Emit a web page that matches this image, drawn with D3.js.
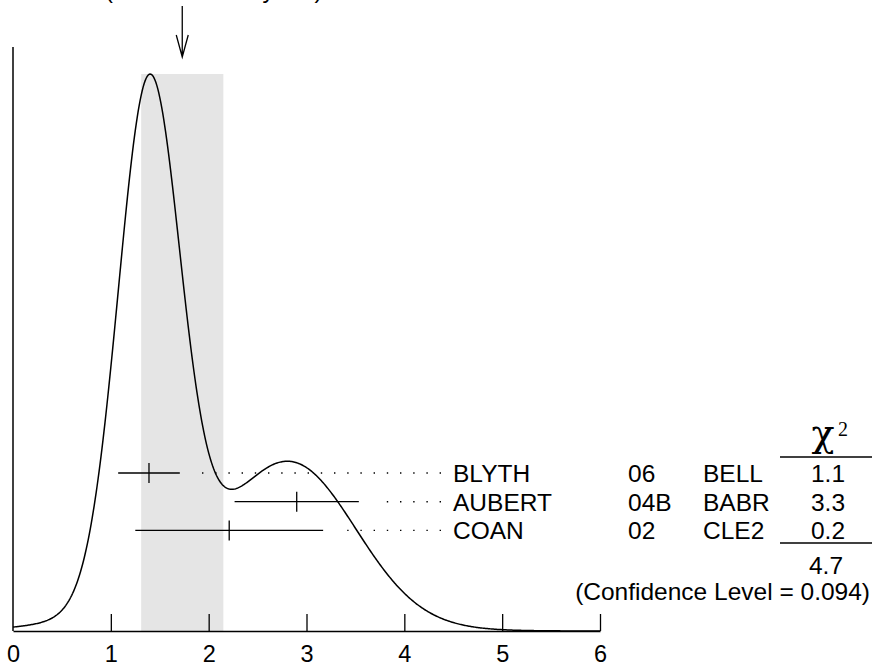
<!DOCTYPE html>
<html>
<head>
<meta charset="utf-8">
<script src="https://cdn.jsdelivr.net/npm/d3@7"></script>
<style>
  body { margin: 0; background: #fff; }
  text { font-family: "Liberation Sans", Arial, Helvetica, sans-serif; fill: #000; }
</style>
</head>
<body>
<div id="chart"></div>
<script>
const authors = ['BLYTH', 'AUBERT', 'COAN'];
const years = ['06', '04B', '02'];
const experiments = ['BELL', 'BABR', 'CLE2'];
const values = [1.39, 2.90, 2.21];
const errors = [0.315, 0.635, 0.96];
const chi2 = ['1.1', '3.3', '0.2'];
const chi2Total = '4.7';
const confidence = '(Confidence Level = 0.094)';
const average = 1.73;
const averageError = 0.42;
const xTicks = [0, 1, 2, 3, 4, 5, 6];

const width = 872;
const height = 669;

const svg = d3.select('#chart')
  .append('svg')
  .attr('width', width)
  .attr('height', height);

const x = d3.scaleLinear().domain([0, 6]).range([13, 600]);

// ideogram: sum of gaussians, each with area proportional to 1/error
const ideogram = v => d3.sum(values, (m, i) => {
  const s = errors[i];
  return Math.exp(-0.5 * ((v - m) / s) ** 2) / (s * s);
});
const grid = d3.range(0, 6.0001, 0.01);
const yMax = d3.max(grid, ideogram);
const y = d3.scaleLinear().domain([0, yMax]).range([631, 74]);

// shaded band for the average +- error
svg.append('rect')
  .attr('x', x(average - averageError))
  .attr('y', y(yMax))
  .attr('width', x(average + averageError) - x(average - averageError))
  .attr('height', y(0) - y(yMax))
  .attr('fill', '#e5e5e5');

// title line, mostly above the frame
svg.append('text')
  .attr('x', 105)
  .attr('y', -2)
  .attr('font-size', 24)
  .text('(Error scaled by 1.5)');

// arrow pointing at the average
const ax = x(average);
svg.append('path')
  .attr('d', `M${ax},6V57M${ax - 6},35L${ax},57L${ax + 6},35`)
  .attr('fill', 'none')
  .attr('stroke', '#000')
  .attr('stroke-width', 1.3);

// axes
svg.append('line')
  .attr('x1', x(0)).attr('x2', x(0))
  .attr('y1', 47).attr('y2', y(0))
  .attr('stroke', '#000').attr('stroke-width', 1.5);

const xAxis = d3.axisBottom(x)
  .tickValues(xTicks)
  .tickSize(0)
  .tickPadding(14)
  .tickFormat(d3.format('d'));

const gx = svg.append('g')
  .attr('transform', `translate(0,${y(0)})`)
  .call(xAxis);
gx.select('.domain').attr('stroke', '#000').attr('stroke-width', 1.5);
gx.selectAll('.tick text')
  .attr('font-size', 23.5)
  .attr('font-family', '"Liberation Sans", Arial, sans-serif')
  .attr('fill', '#000');
gx.selectAll('.tick')
  .filter(d => d > 0)
  .append('line')
  .attr('y1', 0).attr('y2', -17)
  .attr('stroke', '#000').attr('stroke-width', 1.3);

// ideogram curve
svg.append('path')
  .datum(grid)
  .attr('d', d3.line().x(d => x(d)).y(d => y(ideogram(d))))
  .attr('fill', 'none')
  .attr('stroke', '#000')
  .attr('stroke-width', 1.5);

// measurement rows
const rowY = i => 473 + i * 28.7;
const labelX = 453;
const fs = 24.5;

const rows = svg.selectAll('.row')
  .data(values)
  .enter()
  .append('g')
  .attr('class', 'row');

rows.append('line')
  .attr('x1', (d, i) => x(d - errors[i]))
  .attr('x2', (d, i) => x(d + errors[i]))
  .attr('y1', (d, i) => rowY(i)).attr('y2', (d, i) => rowY(i))
  .attr('stroke', '#000').attr('stroke-width', 1.3);

rows.append('line')
  .attr('x1', d => x(d)).attr('x2', d => x(d))
  .attr('y1', (d, i) => rowY(i) - 10).attr('y2', (d, i) => rowY(i) + 10)
  .attr('stroke', '#000').attr('stroke-width', 1.3);

// dotted leaders, drawn from the label leftwards
rows.append('line')
  .attr('x1', labelX - 12)
  .attr('x2', (d, i) => x(d + errors[i]) + 20)
  .attr('y1', (d, i) => rowY(i)).attr('y2', (d, i) => rowY(i))
  .attr('stroke', '#000').attr('stroke-width', 1.4)
  .attr('stroke-dasharray', '1.4,11.8');

rows.append('text')
  .attr('x', labelX)
  .attr('y', (d, i) => rowY(i) + 9)
  .attr('font-size', fs)
  .text((d, i) => authors[i]);

rows.append('text')
  .attr('x', 628)
  .attr('y', (d, i) => rowY(i) + 9)
  .attr('font-size', fs)
  .text((d, i) => years[i]);

rows.append('text')
  .attr('x', 703)
  .attr('y', (d, i) => rowY(i) + 9)
  .attr('font-size', fs)
  .text((d, i) => experiments[i]);

rows.append('text')
  .attr('x', 828)
  .attr('y', (d, i) => rowY(i) + 9)
  .attr('text-anchor', 'middle')
  .attr('font-size', fs)
  .text((d, i) => chi2[i]);

// chi-squared column header and total
svg.append('text')
  .attr('x', 823)
  .attr('y', 446)
  .attr('text-anchor', 'middle')
  .attr('font-size', 38)
  .style('font-family', '"DejaVu Serif", serif')
  .text('χ');
svg.append('text')
  .attr('x', 838)
  .attr('y', 436)
  .attr('font-size', 20)
  .style('font-family', '"Liberation Serif", "Times New Roman", serif')
  .text('2');

svg.append('line')
  .attr('x1', 780).attr('x2', 872)
  .attr('y1', 457).attr('y2', 457)
  .attr('stroke', '#000').attr('stroke-width', 1.3);
svg.append('line')
  .attr('x1', 780).attr('x2', 872)
  .attr('y1', 543).attr('y2', 543)
  .attr('stroke', '#000').attr('stroke-width', 1.3);

svg.append('text')
  .attr('x', 826)
  .attr('y', 574)
  .attr('text-anchor', 'middle')
  .attr('font-size', fs)
  .text(chi2Total);

svg.append('text')
  .attr('x', 870)
  .attr('y', 600)
  .attr('text-anchor', 'end')
  .attr('font-size', fs)
  .text(confidence);
</script>
</body>
</html>
